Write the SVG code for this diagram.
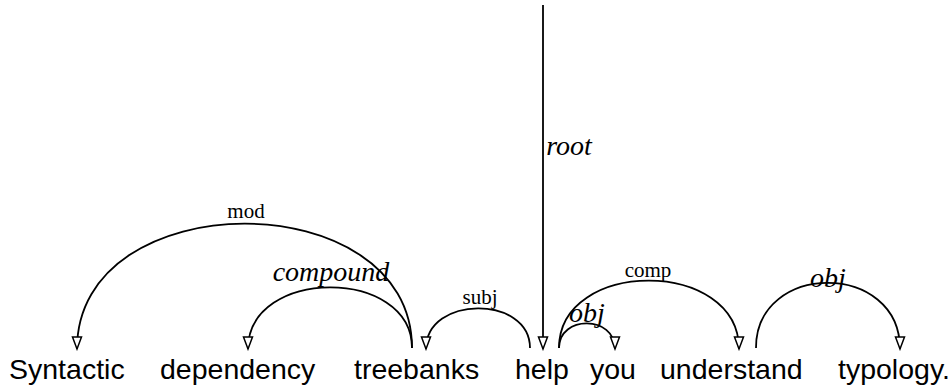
<svg xmlns="http://www.w3.org/2000/svg" width="952" height="389" viewBox="0 0 952 389">
<style>
.w{font-family:"Liberation Sans",Arial,sans-serif;font-size:28.5px;fill:#000}
.l{font-family:"Liberation Serif","Times New Roman",serif;font-size:21px;fill:#000;text-anchor:middle}
.li{font-family:"Liberation Serif","Times New Roman",serif;font-size:28px;font-style:italic;fill:#000;text-anchor:middle}
.a{fill:none;stroke:#000;stroke-width:1.8;marker-end:url(#ah)}
</style>
<defs>
<marker id="ah" markerUnits="userSpaceOnUse" markerWidth="16" markerHeight="14" viewBox="0 0 16 14" refX="14" refY="7" orient="auto">
<path d="M2,2.5 L14,7 L2,11.5 Z" fill="#fff" stroke="#000" stroke-width="1.5"/>
</marker>
</defs>
<g id="connectors">
<path class="a" d="M412,348 C412,182 77,182 77,349"/>
<path class="a" d="M412,348 C412,267 248,267 248,349"/>
<path class="a" d="M530,348 C530,295 426,295 426,349"/>
<path class="a" d="M543,5 L543,349"/>
<path class="a" d="M559,348 C559,315 615,315 615,349"/>
<path class="a" d="M559,348 C559,258 739,258 739,349"/>
<path class="a" d="M756,348 C756,261 900,261 900,349"/>
</g>
<g id="labels">
<text class="l" x="246" y="218">mod</text>
<text class="li" x="331" y="281">compound</text>
<text class="l" x="480" y="304">subj</text>
<text class="li" x="569" y="155">root</text>
<text class="li" x="587" y="322">obj</text>
<text class="l" x="648" y="277">comp</text>
<text class="li" x="828" y="287">obj</text>
</g>
<g id="n1"><text class="w" x="9" y="379">Syntactic</text></g>
<g id="n2"><text class="w" x="160" y="379">dependency</text></g>
<g id="n3"><text class="w" x="354" y="379">treebanks</text></g>
<g id="n4"><text class="w" x="515" y="379">help</text></g>
<g id="n5"><text class="w" x="590" y="379">you</text></g>
<g id="n6"><text class="w" x="660" y="379">understand</text></g>
<g id="n7"><text class="w" x="838" y="379">typology.</text></g>
</svg>
